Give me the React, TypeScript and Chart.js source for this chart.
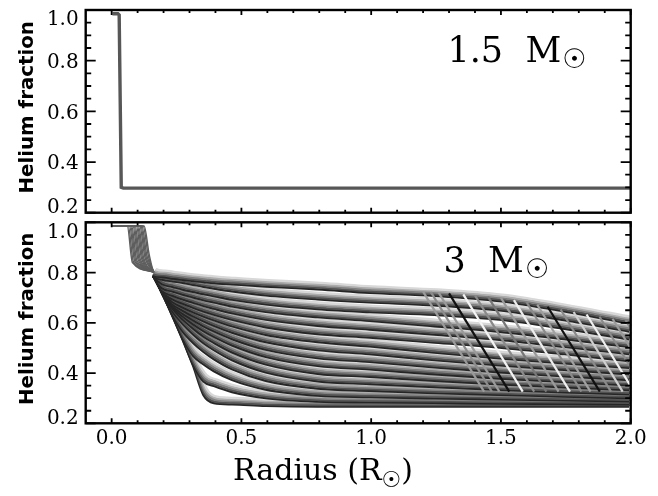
import React, { useEffect, useRef } from "react";
import { Chart, registerables } from "chart.js";

Chart.register(...registerables);

// ---------- axes ----------
const X_RANGE = [-0.1, 2.0];
const Y_RANGE = [0.2, 1.0];
const X_MAJOR = [0.0, 0.5, 1.0, 1.5, 2.0];
const X_TICK_LABELS = ["0.0", "0.5", "1.0", "1.5", "2.0"];
const X_MINOR = [0.1, 0.2, 0.3, 0.4, 0.6, 0.7, 0.8, 0.9, 1.1, 1.2, 1.3, 1.4, 1.6, 1.7, 1.8, 1.9];
const Y_MAJOR = [0.2, 0.4, 0.6, 0.8, 1.0];
const Y_TICK_LABELS = ["0.2", "0.4", "0.6", "0.8", "1.0"];
const Y_MINOR = [0.25, 0.3, 0.35, 0.45, 0.5, 0.55, 0.65, 0.7, 0.75, 0.85, 0.9, 0.95];

// ---------- 1.5 Msun panel ----------
const LOW_MASS_X = [0.003, 0.024, 0.029, 0.037, 0.045, 2.0];
const LOW_MASS_Y = [0.985, 0.985, 0.98, 0.3, 0.297, 0.297];

// ---------- 3 Msun panel ----------
const CORE_X = 0.003;
const CORE_Y = 0.985;
const HOOK_DROP_X = [0.06, 0.064, 0.069, 0.073, 0.077, 0.082, 0.086, 0.09, 0.095, 0.099, 0.103, 0.108, 0.112, 0.116, 0.121, 0.125];
const HOOK_KNEE_X = [0.08, 0.084, 0.089, 0.093, 0.097, 0.102, 0.106, 0.11, 0.115, 0.119, 0.123, 0.128, 0.132, 0.136, 0.141, 0.145];
const HOOK_KNEE_Y = [0.84, 0.842, 0.844, 0.846, 0.848, 0.85, 0.852, 0.854, 0.856, 0.858, 0.86, 0.862, 0.864, 0.866, 0.868, 0.87];

const FAN_X = [0.165, 0.2, 0.24, 0.28, 0.32, 0.36, 0.4, 0.47, 0.6, 0.8, 1.0, 1.25, 1.5, 1.75, 2.0];
const PROFILE_00 = [0.8, 0.73, 0.64, 0.544, 0.441, 0.325, 0.293, 0.288, 0.282, 0.279, 0.279, 0.279, 0.279, 0.279, 0.279];
const PROFILE_01 = [0.8, 0.731, 0.642, 0.547, 0.446, 0.379, 0.361, 0.337, 0.313, 0.299, 0.296, 0.294, 0.291, 0.29, 0.288];
const PROFILE_02 = [0.8, 0.731, 0.644, 0.55, 0.481, 0.447, 0.42, 0.385, 0.347, 0.323, 0.317, 0.312, 0.308, 0.304, 0.3];
const PROFILE_03 = [0.8, 0.732, 0.646, 0.578, 0.533, 0.497, 0.468, 0.428, 0.382, 0.351, 0.342, 0.333, 0.326, 0.319, 0.313];
const PROFILE_04 = [0.8, 0.732, 0.659, 0.608, 0.567, 0.532, 0.504, 0.464, 0.415, 0.38, 0.369, 0.357, 0.346, 0.336, 0.328];
const PROFILE_05 = [0.8, 0.733, 0.67, 0.626, 0.59, 0.558, 0.533, 0.495, 0.447, 0.41, 0.398, 0.382, 0.368, 0.356, 0.345];
const PROFILE_06 = [0.8, 0.733, 0.675, 0.638, 0.607, 0.58, 0.557, 0.523, 0.477, 0.441, 0.427, 0.408, 0.391, 0.377, 0.364];
const PROFILE_07 = [0.8, 0.734, 0.68, 0.649, 0.623, 0.599, 0.579, 0.548, 0.506, 0.472, 0.457, 0.435, 0.416, 0.4, 0.385];
const PROFILE_08 = [0.8, 0.734, 0.687, 0.661, 0.639, 0.619, 0.601, 0.574, 0.536, 0.504, 0.488, 0.464, 0.443, 0.425, 0.408];
const PROFILE_09 = [0.8, 0.735, 0.696, 0.674, 0.655, 0.638, 0.623, 0.599, 0.565, 0.536, 0.519, 0.494, 0.471, 0.451, 0.433];
const PROFILE_10 = [0.8, 0.736, 0.707, 0.689, 0.673, 0.658, 0.645, 0.625, 0.595, 0.568, 0.554, 0.534, 0.514, 0.488, 0.46];
const PROFILE_11 = [0.8, 0.74, 0.721, 0.706, 0.693, 0.68, 0.669, 0.651, 0.625, 0.601, 0.586, 0.566, 0.545, 0.517, 0.488];
const PROFILE_12 = [0.8, 0.751, 0.738, 0.725, 0.714, 0.703, 0.694, 0.678, 0.656, 0.635, 0.62, 0.599, 0.577, 0.548, 0.517];
const PROFILE_13 = [0.8, 0.767, 0.756, 0.745, 0.736, 0.727, 0.719, 0.705, 0.686, 0.667, 0.655, 0.644, 0.625, 0.589, 0.547];
const PROFILE_14 = [0.8, 0.785, 0.778, 0.772, 0.764, 0.756, 0.749, 0.738, 0.722, 0.706, 0.694, 0.682, 0.662, 0.623, 0.578];
const PROFILE_15 = [0.8, 0.795, 0.789, 0.784, 0.779, 0.775, 0.771, 0.766, 0.757, 0.746, 0.732, 0.72, 0.699, 0.658, 0.61];
const PROFILES = [
  PROFILE_00, PROFILE_01, PROFILE_02, PROFILE_03, PROFILE_04, PROFILE_05, PROFILE_06, PROFILE_07,
  PROFILE_08, PROFILE_09, PROFILE_10, PROFILE_11, PROFILE_12, PROFILE_13, PROFILE_14, PROFILE_15,
];

// diagonal streaks in the outer envelope
const DIAG_X0 = [1.2, 1.23, 1.26, 1.3, 1.355, 1.4, 1.45, 1.5, 1.55, 1.6, 1.64, 1.68, 1.73, 1.78, 1.83, 1.88, 1.93, 1.98];
const DIAG_Y0 = [0.724, 0.722, 0.72, 0.717, 0.713, 0.709, 0.704, 0.699, 0.69, 0.68, 0.672, 0.664, 0.653, 0.643, 0.633, 0.624, 0.616, 0.611];
const DIAG_X1 = [1.435, 1.465, 1.494, 1.532, 1.584, 1.628, 1.675, 1.722, 1.766, 1.81, 1.845, 1.881, 1.924, 1.969, 2.013, 2.057, 2.102, 2.148];
const DIAG_Y1 = [0.326, 0.326, 0.326, 0.326, 0.326, 0.326, 0.326, 0.326, 0.326, 0.326, 0.326, 0.326, 0.326, 0.326, 0.326, 0.326, 0.326, 0.326];

// annotations
const TOP_NOTE = { mass: "1.5", x: 1.294, y: 0.794 };
const BOTTOM_NOTE = { mass: "3", x: 1.279, y: 0.803 };

// ---------- styles ----------
// each profile is drawn as a shaded band: dark lower edge, light upper edge
const BAND_COLORS = ["#262626", "#525252", "#808080", "#acacac", "#d8d8d8"];
const BAND_SHIFT_Y = [3.2, 1.6, 0, -1.6, -3.2];
const BAND_SHIFT_X = [-1.6, -0.8, 0, 0.8, 1.6];
const BAND_WIDTH = 2.3;
const HOOK_COLOR = "#5e5e5e";
const HOOK_WIDTH = 1.4;
const DIAG_COLORS = [
  "#9a9a9a", "#8c8c8c", "#9a9a9a", "#111111", "#f4f4f4", "#8a8a8a", "#777777", "#9a9a9a", "#eeeeee",
  "#8a8a8a", "#a0a0a0", "#111111", "#8a8a8a", "#cfcfcf", "#f0f0f0", "#8a8a8a", "#9a9a9a", "#8a8a8a",
];
const SERIF = '"DejaVu Serif", "Liberation Serif", serif';
const SANS = '"DejaVu Sans", sans-serif';

const bandShiftPlugin = {
  id: "bandShift",
  beforeDatasetDraw(chart: any, args: any) {
    const ds = chart.data.datasets[args.index];
    chart.ctx.save();
    if (ds.shiftY || ds.shiftX) chart.ctx.translate(ds.shiftX || 0, ds.shiftY || 0);
  },
  afterDatasetDraw(chart: any) {
    chart.ctx.restore();
  },
};

function framePlugin(opts: { xLabels: boolean; note: { mass: string; x: number; y: number } }) {
  return {
    id: "idlFrame",
    afterDraw(chart: any) {
      const { ctx, chartArea: a, scales } = chart;
      const xs = scales.x;
      const ys = scales.y;
      ctx.save();
      ctx.strokeStyle = "#000";
      ctx.lineWidth = 1.8;
      ctx.beginPath();
      const xt = (v: number, len: number) => {
        const px = xs.getPixelForValue(v);
        ctx.moveTo(px, a.bottom);
        ctx.lineTo(px, a.bottom - len);
        ctx.moveTo(px, a.top);
        ctx.lineTo(px, a.top + len);
      };
      const yt = (v: number, len: number) => {
        const py = ys.getPixelForValue(v);
        ctx.moveTo(a.left, py);
        ctx.lineTo(a.left + len, py);
        ctx.moveTo(a.right, py);
        ctx.lineTo(a.right - len, py);
      };
      X_MAJOR.forEach((v) => xt(v, 5));
      X_MINOR.forEach((v) => xt(v, 3));
      Y_MAJOR.forEach((v) => yt(v, 10));
      Y_MINOR.forEach((v) => yt(v, 5.5));
      ctx.stroke();
      ctx.lineWidth = 2.4;
      ctx.strokeRect(a.left, a.top, a.right - a.left, a.bottom - a.top);

      ctx.fillStyle = "#000";
      ctx.font = `20px ${SERIF}`;
      ctx.textAlign = "right";
      ctx.textBaseline = "alphabetic";
      Y_MAJOR.forEach((v, i) => {
        let py = ys.getPixelForValue(v);
        py = Math.min(Math.max(py, a.top + 8), a.bottom - 7);
        ctx.fillText(Y_TICK_LABELS[i], a.left - 7, py + 7.3);
      });
      ctx.save();
      ctx.translate(33.3, (a.top + a.bottom) / 2 - 4);
      ctx.rotate(-Math.PI / 2);
      ctx.font = `bold 19.8px ${SANS}`;
      ctx.textAlign = "center";
      ctx.fillText("Helium fraction", 0, 0);
      ctx.restore();

      const nx = xs.getPixelForValue(opts.note.x);
      const ny = ys.getPixelForValue(opts.note.y);
      ctx.font = `35px ${SERIF}`;
      ctx.textAlign = "left";
      ctx.textBaseline = "alphabetic";
      const t = `${opts.note.mass}  M`;
      ctx.fillText(t, nx, ny);
      const w = ctx.measureText(t).width;
      ctx.font = `27px ${SANS}`;
      ctx.textBaseline = "middle";
      ctx.fillText("\u2609", nx + w + 1, ny - 1);

      if (opts.xLabels) {
        ctx.font = `20px ${SERIF}`;
        ctx.textAlign = "center";
        ctx.textBaseline = "alphabetic";
        X_MAJOR.forEach((v, i) => {
          ctx.fillText(X_TICK_LABELS[i], xs.getPixelForValue(v), a.bottom + 21);
        });
        const base = a.bottom + 57;
        const mainFont = `30px ${SERIF}`;
        const subFont = `22px ${SANS}`;
        ctx.font = mainFont;
        const p1 = "Radius (R";
        const w1 = ctx.measureText(p1).width;
        const w3 = ctx.measureText(")").width;
        ctx.font = subFont;
        const w2 = ctx.measureText("\u2609").width;
        const x0 = 323 - (w1 + w2 + w3) / 2;
        ctx.textAlign = "left";
        ctx.font = mainFont;
        ctx.fillText(p1, x0, base);
        ctx.font = subFont;
        ctx.fillText("\u2609", x0 + w1, base + 7);
        ctx.font = mainFont;
        ctx.fillText(")", x0 + w1 + w2, base);
      }
      ctx.restore();
    },
  };
}

function baseOptions(padding: any) {
  return {
    responsive: false,
    animation: false as const,
    events: [] as any[],
    layout: { padding },
    plugins: { legend: { display: false }, tooltip: { enabled: false } },
    scales: {
      x: { type: "linear" as const, min: X_RANGE[0], max: X_RANGE[1], display: false },
      y: { type: "linear" as const, min: Y_RANGE[0], max: Y_RANGE[1], display: false },
    },
  };
}

export default function App() {
  const topRef = useRef<HTMLCanvasElement>(null);
  const botRef = useRef<HTMLCanvasElement>(null);

  useEffect(() => {
    document.body.style.margin = "0";

    const topData = LOW_MASS_X.map((x, i) => ({ x, y: LOW_MASS_Y[i] }));
    const c1 = new Chart(topRef.current as HTMLCanvasElement, {
      type: "line",
      data: {
        datasets: [
          {
            data: topData,
            borderColor: "#575757",
            borderWidth: 3.4,
            pointRadius: 0,
            tension: 0,
            fill: false,
            clip: 0,
          } as any,
        ],
      },
      options: baseOptions({ left: 85.7, right: 27.3, top: 10, bottom: 5.3 }) as any,
      plugins: [framePlugin({ xLabels: false, note: TOP_NOTE })],
    });

    const datasets: any[] = [];
    let seq = 0;
    const push = (ds: any) => {
      ds.order = 100000 - seq;
      seq += 1;
      datasets.push(ds);
    };
    PROFILES.forEach((prof, k) => {
      const pts = [
        { x: CORE_X, y: CORE_Y },
        { x: HOOK_DROP_X[k], y: CORE_Y },
        { x: HOOK_KNEE_X[k], y: HOOK_KNEE_Y[k] },
        ...FAN_X.map((x, i) => ({ x, y: prof[i] })),
      ];
      BAND_COLORS.forEach((col, L) => {
        const isMid = L === 2;
        push({
          data: pts,
          borderColor: col,
          borderWidth: BAND_WIDTH,
          shiftX: BAND_SHIFT_X[L],
          shiftY: BAND_SHIFT_Y[L],
          pointRadius: 0,
          cubicInterpolationMode: "monotone",
          fill: false,
          clip: 0,
          segment: {
            borderColor: (c: any) => (c.p0DataIndex < 3 ? (isMid ? HOOK_COLOR : "rgba(0,0,0,0)") : col),
            borderWidth: (c: any) => (c.p0DataIndex < 3 ? HOOK_WIDTH : BAND_WIDTH),
          },
        });
      });
    });
    DIAG_X0.forEach((x0, i) => {
      push({
        data: [
          { x: x0, y: DIAG_Y0[i] },
          { x: DIAG_X1[i], y: DIAG_Y1[i] },
        ],
        borderColor: DIAG_COLORS[i],
        borderWidth: 2.2,
        pointRadius: 0,
        tension: 0,
        fill: false,
        clip: 0,
      });
    });

    const c2 = new Chart(botRef.current as HTMLCanvasElement, {
      type: "line",
      data: { datasets },
      options: baseOptions({ left: 85.7, right: 27.3, top: 4.3, bottom: 72.7 }) as any,
      plugins: [bandShiftPlugin, framePlugin({ xLabels: true, note: BOTTOM_NOTE })],
    });

    return () => {
      c1.destroy();
      c2.destroy();
    };
  }, []);

  return (
    <div style={{ position: "relative", width: 658, height: 496, background: "#fff", overflow: "hidden" }}>
      <canvas ref={topRef} width={658} height={218} style={{ position: "absolute", left: 0, top: 0 }} />
      <canvas ref={botRef} width={658} height={278} style={{ position: "absolute", left: 0, top: 218 }} />
    </div>
  );
}
